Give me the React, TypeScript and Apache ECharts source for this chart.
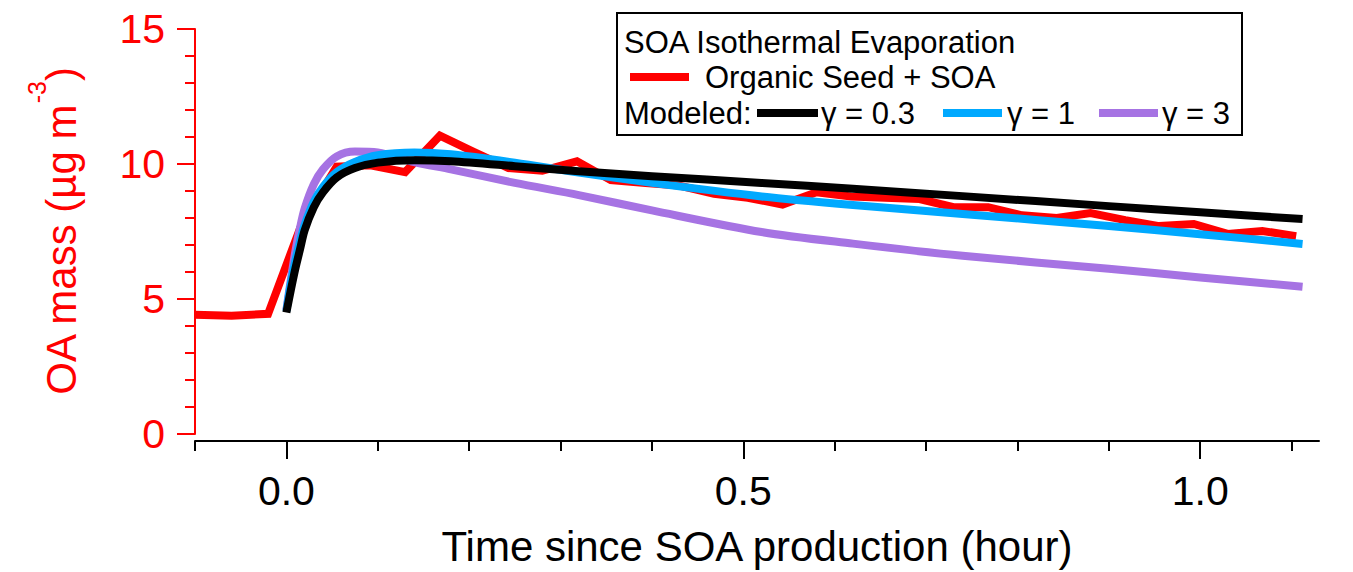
import React, { useEffect, useRef } from "react";
import * as echarts from "echarts";

// Measured OA mass (Organic Seed + SOA)
const redTime = [-0.1, -0.06, -0.02, 0.017, 0.055, 0.092, 0.13, 0.168, 0.205, 0.243, 0.28, 0.318, 0.355, 0.393, 0.43, 0.468, 0.505, 0.543, 0.58, 0.618, 0.655, 0.693, 0.73, 0.768, 0.805, 0.843, 0.88, 0.918, 0.955, 0.993, 1.03, 1.068, 1.105];
const redMass = [4.42, 4.38, 4.45, 7.8, 9.9, 9.95, 9.7, 11.05, 10.45, 9.85, 9.75, 10.1, 9.4, 9.3, 9.2, 8.9, 8.75, 8.5, 8.95, 8.8, 8.75, 8.7, 8.4, 8.4, 8.1, 8.0, 8.18, 7.92, 7.7, 7.78, 7.41, 7.52, 7.33];

// Modeled curves
const modelTime = [0, 0.005, 0.01, 0.015, 0.02, 0.03, 0.04, 0.055, 0.075, 0.1, 0.14, 0.18, 0.25, 0.32, 0.4, 0.52, 0.62, 0.74, 0.9, 1.0, 1.112];
const gamma03 = [4.5, 5.35, 6.15, 6.85, 7.55, 8.4, 8.95, 9.5, 9.85, 10.05, 10.14, 10.1, 9.92, 9.73, 9.55, 9.3, 9.08, 8.81, 8.44, 8.21, 7.96];
const gamma1 = [4.55, 5.6, 6.45, 7.15, 7.75, 8.6, 9.15, 9.7, 10.08, 10.33, 10.43, 10.36, 10.05, 9.68, 9.3, 8.8, 8.48, 8.15, 7.7, 7.4, 7.04];
const gamma3 = [4.6, 5.75, 6.8, 7.65, 8.35, 9.25, 9.8, 10.28, 10.46, 10.43, 10.07, 9.8, 9.3, 8.85, 8.28, 7.48, 7.05, 6.6, 6.12, 5.8, 5.45];

// Axis ticks
const xMajorTicks = [0, 0.5, 1.0];
const xMinorTicks = [-0.1, 0, 0.1, 0.2, 0.3, 0.4, 0.5, 0.6, 0.7, 0.8, 0.9, 1.0, 1.1];

const FONT = '"Liberation Sans", Arial, Helvetica, sans-serif';
const RED = "#ff0000";
const BLUE = "#00a9ff";
const PURPLE = "#a673e3";

export default function App() {
  const ref = useRef<HTMLDivElement>(null);
  useEffect(() => {
    if (!ref.current) return;
    const chart = echarts.init(ref.current, undefined, { renderer: "svg" });
    const pairs = (xs: number[], ys: number[]) => xs.map((x, i) => [x, ys[i]]);
    const lineSeries = (name: string, data: number[][], color: string, smooth: boolean) => ({
      name,
      type: "line",
      xAxisIndex: 0,
      yAxisIndex: 0,
      data,
      showSymbol: false,
      smooth: smooth ? 0.3 : false,
      lineStyle: { color, width: 8, cap: "butt", join: "miter" },
      itemStyle: { color },
      silent: true,
    });
    chart.setOption({
      animation: false,
      backgroundColor: "#ffffff",
      grid: { left: 195, right: 34, top: 29, bottom: 136, containLabel: false },
      xAxis: [
        {
          type: "value",
          min: -0.1,
          max: 1.13,
          position: "bottom",
          offset: 7,
          axisLine: { show: true, onZero: false, lineStyle: { color: "#000", width: 2 } },
          axisTick: { show: true, length: 10, customValues: xMinorTicks, lineStyle: { color: "#000", width: 2 } },
          axisLabel: { show: false },
          splitLine: { show: false },
          name: "Time since SOA production (hour)",
          nameLocation: "middle",
          nameGap: 105,
          nameTextStyle: { fontFamily: FONT, fontSize: 42, color: "#000", verticalAlign: "middle" },
        },
        {
          type: "value",
          min: -0.1,
          max: 1.13,
          position: "bottom",
          offset: 7,
          axisLine: { show: false, onZero: false },
          axisTick: { show: true, length: 18, customValues: xMajorTicks, lineStyle: { color: "#000", width: 2 } },
          axisLabel: {
            show: true,
            customValues: xMajorTicks,
            margin: 29,
            fontFamily: FONT,
            fontSize: 41,
            color: "#000",
            formatter: (v: number) => v.toFixed(1),
          },
          splitLine: { show: false },
        },
      ],
      yAxis: [
        {
          type: "value",
          min: 0,
          max: 15,
          interval: 5,
          axisLine: { show: true, onZero: false, lineStyle: { color: RED, width: 2 } },
          axisTick: { show: true, length: 18, lineStyle: { color: RED, width: 2 } },
          minorTick: { show: true, splitNumber: 5, length: 10, lineStyle: { color: RED, width: 2 } },
          axisLabel: { margin: 30, fontFamily: FONT, fontSize: 41, color: RED },
          splitLine: { show: false },
          minorSplitLine: { show: false },
          name: "{a|OA mass (µg m}{sup|-3}{a|)}",
          nameLocation: "middle",
          nameRotate: 90,
          nameGap: 142,
          nameTextStyle: {
            fontFamily: FONT,
            fontSize: 42,
            color: RED,
            lineHeight: 58,
            verticalAlign: "middle",
            rich: {
              a: { fontFamily: FONT, fontSize: 42, color: RED, verticalAlign: "bottom" },
              sup: { fontFamily: FONT, fontSize: 25, color: RED, verticalAlign: "top" },
            },
          },
        },
      ],
      series: [
        lineSeries("Organic Seed + SOA", pairs(redTime, redMass), RED, false),
        lineSeries("γ = 3", pairs(modelTime, gamma3), PURPLE, true),
        lineSeries("γ = 1", pairs(modelTime, gamma1), BLUE, true),
        lineSeries("γ = 0.3", pairs(modelTime, gamma03), "#000000", true),
      ],
      graphic: [
        {
          type: "group",
          silent: true,
          children: [
            { type: "rect", shape: { x: 617, y: 13, width: 625, height: 122 }, style: { fill: "#ffffff", stroke: "#000", lineWidth: 2 } },
            { type: "text", x: 624, y: 42, style: { text: "SOA Isothermal Evaporation", fontFamily: FONT, fontSize: 31, fill: "#000", verticalAlign: "middle", textVerticalAlign: "middle" } },
            { type: "line", shape: { x1: 630, y1: 77, x2: 689, y2: 77 }, style: { stroke: RED, lineWidth: 8 } },
            { type: "text", x: 705, y: 77, style: { text: "Organic Seed + SOA", fontFamily: FONT, fontSize: 31, fill: "#000", verticalAlign: "middle", textVerticalAlign: "middle" } },
            { type: "text", x: 624, y: 113, style: { text: "Modeled:", fontFamily: FONT, fontSize: 31, fill: "#000", verticalAlign: "middle", textVerticalAlign: "middle" } },
            { type: "line", shape: { x1: 757, y1: 113, x2: 818, y2: 113 }, style: { stroke: "#000", lineWidth: 8 } },
            { type: "text", x: 821, y: 113, style: { text: "γ = 0.3", fontFamily: FONT, fontSize: 31, fill: "#000", verticalAlign: "middle", textVerticalAlign: "middle" } },
            { type: "line", shape: { x1: 943, y1: 113, x2: 1002, y2: 113 }, style: { stroke: BLUE, lineWidth: 8 } },
            { type: "text", x: 1007, y: 113, style: { text: "γ = 1", fontFamily: FONT, fontSize: 31, fill: "#000", verticalAlign: "middle", textVerticalAlign: "middle" } },
            { type: "line", shape: { x1: 1099, y1: 113, x2: 1158, y2: 113 }, style: { stroke: PURPLE, lineWidth: 8 } },
            { type: "text", x: 1162, y: 113, style: { text: "γ = 3", fontFamily: FONT, fontSize: 31, fill: "#000", verticalAlign: "middle", textVerticalAlign: "middle" } },
          ],
        },
      ],
    });
    return () => chart.dispose();
  }, []);
  return <div ref={ref} style={{ position: "absolute", left: 0, top: 0, width: 1353, height: 572 }} />;
}
